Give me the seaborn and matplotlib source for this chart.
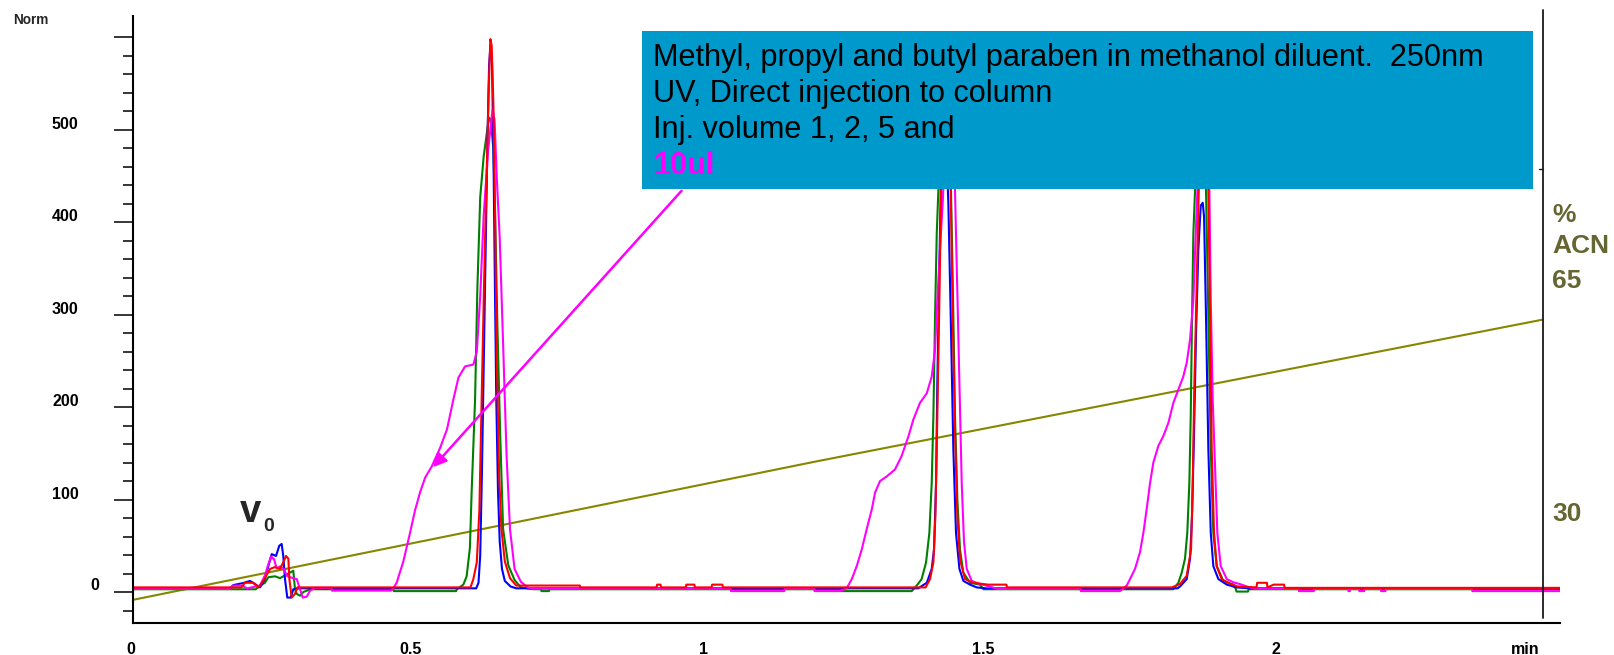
import numpy as np
import pandas as pd
import matplotlib
matplotlib.use("Agg")
import matplotlib.pyplot as plt
import seaborn as sns
from matplotlib.patches import Rectangle
from matplotlib.transforms import ScaledTranslation, blended_transform_factory

# ---------------- data ----------------
# time [min], signal [Norm]
blue_pts = [
    (0.0, 4), (0.170, 4), (0.1757, 7.5), (0.193, 9.7), (0.205, 12), (0.2136, 8.6), (0.2224, 5),
    (0.231, 14), (0.2369, 28), (0.2428, 41), (0.2503, 39), (0.256, 50), (0.2602, 52), (0.263, 39),
    (0.266, 14), (0.270, -6), (0.276, -6), (0.2805, 3), (0.2915, 4),
    (0.600, 4), (0.604, 10), (0.607, 40), (0.610, 130), (0.6135, 260), (0.617, 390), (0.620, 500),
    (0.6225, 570), (0.625, 592), (0.6275, 575), (0.630, 480), (0.6325, 340), (0.635, 210),
    (0.638, 110), (0.641, 55), (0.645, 25), (0.650, 12), (0.660, 6), (0.670, 4),
    (1.372, 4), (1.387, 10), (1.3956, 25), (1.3997, 46), (1.4032, 118), (1.4054, 226), (1.4084, 334),
    (1.4114, 434), (1.4140, 510), (1.4165, 540), (1.4195, 510), (1.4247, 420), (1.4288, 298),
    (1.4334, 154), (1.438, 64), (1.444, 25), (1.451, 12), (1.4625, 8), (1.4743, 5), (1.49, 4),
    (1.825, 4), (1.8293, 6), (1.841, 14), (1.8468, 36), (1.8503, 82), (1.8538, 172), (1.8573, 280),
    (1.8613, 370), (1.8655, 418), (1.869, 421), (1.8713, 406), (1.8747, 298), (1.8788, 154),
    (1.883, 64), (1.8875, 28), (1.8963, 14), (1.911, 8), (1.928, 5), (1.95, 4), (2.493, 4),
]
red_pts = [
    (0.0, 5), (0.190, 5), (0.196, 10), (0.2107, 10), (0.2195, 5), (0.228, 12), (0.240, 25),
    (0.2486, 27), (0.2573, 25), (0.2643, 34), (0.2678, 39), (0.2719, 36), (0.2736, 14), (0.2777, -6),
    (0.2835, -2), (0.2876, 5),
    (0.590, 5), (0.595, 14), (0.601, 32), (0.6055, 88), (0.6095, 208), (0.6135, 328), (0.618, 447),
    (0.622, 547), (0.6247, 598), (0.627, 591), (0.630, 527), (0.633, 407), (0.636, 248), (0.640, 128),
    (0.644, 68), (0.650, 33), (0.659, 15), (0.670, 7), (0.781, 7), (0.782, 5),
    (0.915, 5), (0.916, 8), (0.922, 8), (0.923, 5), (0.966, 5), (0.967, 8), (0.981, 8), (0.982, 5),
    (1.011, 5), (1.012, 8), (1.030, 8), (1.031, 5),
    (1.385, 5), (1.3927, 14), (1.3985, 32), (1.402, 82), (1.4054, 190), (1.409, 316), (1.412, 434),
    (1.4155, 530), (1.4185, 560), (1.4215, 530), (1.4288, 434), (1.4323, 298), (1.4363, 172),
    (1.4404, 82), (1.445, 35), (1.4538, 14), (1.468, 10), (1.494, 8), (1.526, 8), (1.527, 5),
    (1.815, 5), (1.8293, 8.6), (1.841, 17.6), (1.8486, 46), (1.8515, 118), (1.8544, 226),
    (1.8585, 334), (1.862, 434), (1.866, 540), (1.870, 570), (1.874, 540), (1.8788, 434),
    (1.8818, 298), (1.8847, 154), (1.8887, 64), (1.8934, 28), (1.902, 14), (1.9166, 9), (1.93, 6),
    (1.963, 5), (1.964, 10), (1.981, 10), (1.982, 5), (1.993, 8), (2.011, 8), (2.012, 4.5),
    (2.493, 4.5),
]
green_pts = [
    (0.0, 3), (0.215, 3), (0.2224, 7), (0.231, 10), (0.2369, 16), (0.2486, 17), (0.2573, 15),
    (0.266, 18), (0.2748, 21), (0.2805, 23), (0.2835, 3), (0.2865, -2), (0.2922, -4), (0.298, 0),
    (0.304, 1.5), (0.3127, 3),
    (0.455, 3), (0.456, 1), (0.565, 1), (0.566, 3), (0.5775, 8), (0.5833, 17), (0.589, 48),
    (0.592, 108), (0.598, 208), (0.602, 328), (0.607, 427), (0.613, 471), (0.620, 503), (0.6225, 513),
    (0.6253, 511), (0.630, 479), (0.633, 407), (0.637, 288), (0.642, 168), (0.647, 68), (0.656, 29),
    (0.667, 13), (0.678, 5), (0.700, 3), (0.713, 3), (0.714, 1), (0.727, 1), (0.728, 3),
    (1.236, 3), (1.237, 1), (1.3607, 1), (1.3694, 7), (1.378, 14), (1.3857, 32), (1.3915, 64),
    (1.3956, 118), (1.3985, 190), (1.4014, 297), (1.4044, 388), (1.4072, 434), (1.411, 490),
    (1.4155, 520), (1.420, 520), (1.425, 480), (1.4293, 434), (1.4334, 298), (1.4363, 190),
    (1.4404, 100), (1.445, 46), (1.4508, 21), (1.4625, 10), (1.48, 8), (1.486, 3),
    (1.8176, 3), (1.8264, 10), (1.8323, 21), (1.838, 36), (1.842, 64), (1.8456, 118), (1.848, 190),
    (1.8503, 298), (1.8526, 388), (1.8555, 434), (1.859, 490), (1.864, 510), (1.869, 490),
    (1.8747, 434), (1.8788, 298), (1.883, 154), (1.8875, 64), (1.8934, 28), (1.905, 12), (1.9224, 8),
    (1.927, 3), (1.928, 0.5), (1.948, 0.5), (1.949, 3), (2.493, 3),
]
magenta_pts = [
    (0.0, 3.5), (0.17, 3.5), (0.1757, 7), (0.19, 7), (0.2, 4), (0.2224, 7), (0.231, 18), (0.2369, 30),
    (0.2416, 38.5), (0.2468, 35.6), (0.2515, 25.5), (0.2573, 27.7), (0.2643, 24.8), (0.269, 17.6),
    (0.276, 15.8), (0.2865, 14), (0.2922, 3), (0.297, -6), (0.304, -5), (0.3097, 1.4), (0.3185, 4.5),
    (0.347, 4.5), (0.348, 1.5), (0.451, 1.5), (0.455, 4),
    (0.461, 10), (0.4727, 33), (0.4844, 64), (0.493, 88), (0.502, 108), (0.511, 124), (0.5225, 136),
    (0.537, 156), (0.549, 176), (0.560, 208), (0.569, 232), (0.5805, 244), (0.595, 246), (0.601, 260),
    (0.607, 320), (0.613, 407), (0.621, 479), (0.6285, 522), (0.632, 511), (0.636, 447), (0.641, 384),
    (0.647, 268), (0.653, 148), (0.659, 68), (0.667, 25), (0.678, 11), (0.690, 5), (0.70, 3.5),
    (1.044, 3.5), (1.045, 1), (1.138, 1), (1.139, 3.5), (1.19, 3.5), (1.191, 1), (1.2355, 1),
    (1.247, 4), (1.256, 14), (1.2646, 28), (1.2734, 46), (1.282, 68), (1.291, 89.5), (1.2966, 107.5),
    (1.3053, 120), (1.317, 125), (1.3315, 132.6), (1.343, 147), (1.355, 168.5), (1.3635, 186.5),
    (1.375, 204.5), (1.387, 215), (1.3956, 233), (1.4014, 262), (1.4054, 316), (1.410, 370),
    (1.415, 424), (1.420, 490), (1.425, 520), (1.430, 500), (1.4363, 434), (1.4393, 352),
    (1.444, 226), (1.448, 118), (1.452, 54), (1.4568, 25), (1.4655, 12), (1.48, 8.6), (1.4917, 6.8),
    (1.51, 3.5),
    (1.655, 3.5), (1.656, 1), (1.7246, 1), (1.7362, 7), (1.742, 14), (1.7507, 25), (1.7594, 43),
    (1.7653, 64), (1.771, 89.5), (1.777, 118), (1.7827, 140), (1.7914, 158), (1.800, 168.5),
    (1.809, 183), (1.8176, 204.5), (1.8264, 219), (1.835, 233), (1.841, 248), (1.8468, 273),
    (1.8526, 316), (1.8567, 388), (1.8596, 434), (1.864, 500), (1.869, 530), (1.874, 510),
    (1.8806, 434), (1.883, 316), (1.8864, 208), (1.8905, 136), (1.8945, 64), (1.9004, 28),
    (1.911, 14), (1.9224, 10.5), (1.934, 8.6), (1.946, 6), (1.96, 3.5),
    (2.036, 3.5), (2.037, 1), (2.063, 1), (2.064, 3.5), (2.123, 3.5), (2.1235, 1), (2.126, 1),
    (2.1265, 3.5), (2.142, 3.5), (2.1425, 1), (2.151, 1), (2.1515, 3.5), (2.18, 3.5), (2.1805, 1),
    (2.188, 1), (2.1885, 3.5), (2.339, 3.5), (2.34, 1), (2.493, 1),
]
# %ACN gradient
grad_t = [0.0, 1.194, 2.463]
grad_acn = [17.1, 37.9, 59.2]

x_major = [0, 0.5, 1, 1.5, 2]
x_labels = ["0", "0.5", "1", "1.5", "2"]
y_major = [0, 100, 200, 300, 400, 500, 600]
y_labels = ["0", "100", "200", "300", "400", "500", ""]

box_lines = ["Methyl, propyl and butyl paraben in methanol diluent.  250nm",
             "UV, Direct injection to column",
             "Inj. volume 1, 2, 5 and"]
box_last = "10ul"

# ---------------- figure ----------------
sns.set_theme(style="white")
plt.rcParams["font.family"] = ["Liberation Sans", "DejaVu Sans"]

W, H, DPI = 1615, 655, 100
fig = plt.figure(figsize=(W / DPI, H / DPI), dpi=DPI)
fig.patch.set_facecolor("white")
AX_L, AX_R, AX_T, AX_B = 132.7, 1560, 16, 623
ax = fig.add_axes([AX_L / W, 1 - AX_B / H, (AX_R - AX_L) / W, (AX_B - AX_T) / H])
ax.set_facecolor("white")

def px(x, y):
    return x / W, 1 - y / H

# gradient on twin axis (%ACN)
ax2 = ax.twinx()
gdf = pd.DataFrame({"t": grad_t, "acn": grad_acn})
sns.lineplot(data=gdf, x="t", y="acn", ax=ax2, color="#868600", lw=1.5, sort=False)
ax2.set_ylim(13.63, 104.8)
ax2.set_axis_off()
ax2.set_zorder(ax.get_zorder() - 1)
ax.patch.set_visible(False)
ax2.patch.set_visible(False)

# chromatograms
frames = []
for name, pts in [("5ul", green_pts), ("2ul", blue_pts), ("10ul", magenta_pts), ("1ul", red_pts)]:
    a = np.array(pts, dtype=float)
    frames.append(pd.DataFrame({"t": a[:, 0], "y": a[:, 1], "trace": name}))
df = pd.concat(frames, ignore_index=True)
palette = {"5ul": "#008000", "2ul": "#0000ff", "10ul": "#ff00ff", "1ul": "#ff0000"}
sns.lineplot(data=df, x="t", y="y", hue="trace", hue_order=["5ul", "2ul", "10ul", "1ul"],
             palette=palette, estimator=None, sort=False, lw=1.5, legend=False, ax=ax)

ax.set_xlim(0, 2.493)
ax.set_ylim(-33.5, 623)
ax.set_xlabel("")
ax.set_ylabel("")

for s in ["top", "right"]:
    ax.spines[s].set_visible(False)
for s in ["left", "bottom"]:
    ax.spines[s].set_color("black")
    ax.spines[s].set_linewidth(1.5)

ax.set_xticks(x_major)
ax.set_xticks(np.arange(0.1, 2.45, 0.1), minor=True)
ax.set_yticks(y_major)
ax.set_yticks(np.arange(-20, 590, 20), minor=True)
ax.tick_params(axis="both", which="both", direction="out", color="black", width=1.1,
               labelbottom=False, labelleft=False)
ax.tick_params(axis="y", which="major", length=13.5)
ax.tick_params(axis="y", which="minor", length=7)
ax.tick_params(axis="x", which="major", length=9.5)
ax.tick_params(axis="x", which="minor", length=5)
ax.grid(False)

tick_font = dict(fontsize=11.5, fontweight="bold", color="black")
tx = blended_transform_factory(ax.transData, ax.transAxes) + ScaledTranslation(0.03, -0.26, fig.dpi_scale_trans)
for v, lab in zip(x_major, x_labels):
    ax.text(v, 0, lab, transform=tx, ha="right", va="center", **tick_font)
ty = blended_transform_factory(ax.transAxes, ax.transData) + ScaledTranslation(-0.54, 0.055, fig.dpi_scale_trans)
ty0 = blended_transform_factory(ax.transAxes, ax.transData) + ScaledTranslation(-0.33, 0.07, fig.dpi_scale_trans)
for v, lab in zip(y_major, y_labels):
    if lab:
        ax.text(0, v, lab, transform=(ty0 if v == 0 else ty), ha="right", va="center", **tick_font)

fig.text(*px(30.5, 20), "Norm", ha="center", va="center", fontsize=9.8, fontweight="bold")
fig.text(*px(1524.7, 649), "min", ha="center", va="center", **tick_font)

# right (gradient) axis line
ax.plot([2.463, 2.463], [-28, 629.5], color="#1a1a1a", lw=1.3, clip_on=False, zorder=3)
ax.plot([2.457, 2.463], [458, 458], color="#1a1a1a", lw=1.0, clip_on=False, zorder=3)
acn_col = "#666633"
acn_font = dict(fontsize=19, fontweight="bold", color=acn_col, ha="left", va="center")
fig.text(*px(1552, 215), "%", **acn_font)
fig.text(*px(1552, 246.5), "ACN", **acn_font)
fig.text(*px(1552, 281), "65", **acn_font)
fig.text(*px(1552, 514), "30", **acn_font)

# annotation box
box = Rectangle((0.8896, 435.4), 2.4459 - 0.8896, 606.8 - 435.4, facecolor="#0099cc",
                edgecolor="none", zorder=5, clip_on=False)
ax.add_patch(box)
fig.canvas.draw()
rend = fig.canvas.get_renderer()
baselines = [66, 102, 138, 174]
texts = []
for i, line in enumerate(box_lines):
    texts.append(fig.text(*px(653, baselines[i]), line, ha="left", va="baseline",
                          fontsize=20, color="black", zorder=10))
texts.append(fig.text(*px(653, baselines[3]), box_last, ha="left", va="baseline",
                      fontsize=20, color="#ff00ff", fontweight="bold", zorder=10))
w0 = texts[0].get_window_extent(renderer=rend).width
fs = 20 * 827 / w0
for t in texts:
    t.set_fontsize(fs)

# arrow
ax.annotate("", xy=(0.5245, 135), xytext=(0.9587, 434),
            arrowprops=dict(arrowstyle="-|>", color="#ff00ff", lw=1.8, mutation_scale=20,
                            shrinkA=0, shrinkB=0), zorder=6)

# v0 label
fig.text(*px(240, 522), "v", ha="left", va="baseline", fontsize=27.5, fontweight="bold")
fig.text(*px(263, 531), "0", ha="left", va="baseline", fontsize=14, fontweight="bold")

fig.savefig("out.png", dpi=DPI, facecolor="white")
